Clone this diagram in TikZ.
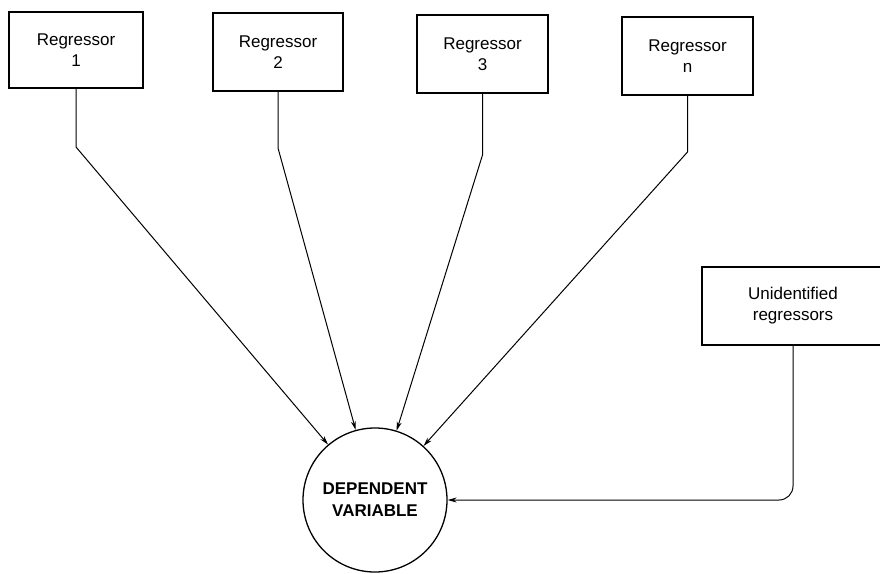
\documentclass[tikz,border=0pt]{standalone}
\usepackage{fontspec}
\setmainfont{Liberation Sans}
\usetikzlibrary{arrows.meta}
\begin{document}
\begin{tikzpicture}[x=1pt,y=-1pt,
  regbox/.style={draw, line width=1.4pt, minimum width=131pt, minimum height=78pt,
    align=center, font=\fontsize{17}{21}\selectfont, inner sep=0pt},
  depcircle/.style={draw, circle, line width=1.3pt, minimum size=144pt, inner sep=0pt,
    align=center, font=\fontsize{17}{22}\selectfont\bfseries},
  link/.style={line width=1pt, -{Stealth[length=9pt,width=5pt]}}]
  \clip (0,0) rectangle (880,573);
  \fill[white] (0,0) rectangle (880,573);

  % regressor boxes
  \node[regbox, minimum width=134pt, minimum height=76pt] (r1) at (76,50) {Regressor\\1};
  \node[regbox, minimum width=130pt] (r2) at (278,52) {Regressor\\2};
  \node[regbox] (r3) at (482.5,54) {Regressor\\3};
  \node[regbox] (rn) at (687.5,56) {Regressor\\n};
  \node[regbox, minimum width=182pt] (ru) at (793,306) {Unidentified\\regressors};

  % dependent variable
  \node[depcircle] (dep) at (375,500) {DEPENDENT\\VARIABLE};

  % bends of the connectors
  \coordinate (b1) at (r1.south |- 0,147);
  \coordinate (b2) at (r2.south |- 0,148);
  \coordinate (b3) at (r3.south |- 0,155);
  \coordinate (bn) at (rn.south |- 0,152);

  \draw[link] (r1.south) -- (b1) -- (dep);
  \draw[link] (r2.south) -- (b2) -- (dep);
  \draw[link] (r3.south) -- (b3) -- (dep);
  \draw[link] (rn.south) -- (bn) -- (dep);
  \draw[link, rounded corners=14pt] (ru.south) |- (dep.east);
\end{tikzpicture}
\end{document}
